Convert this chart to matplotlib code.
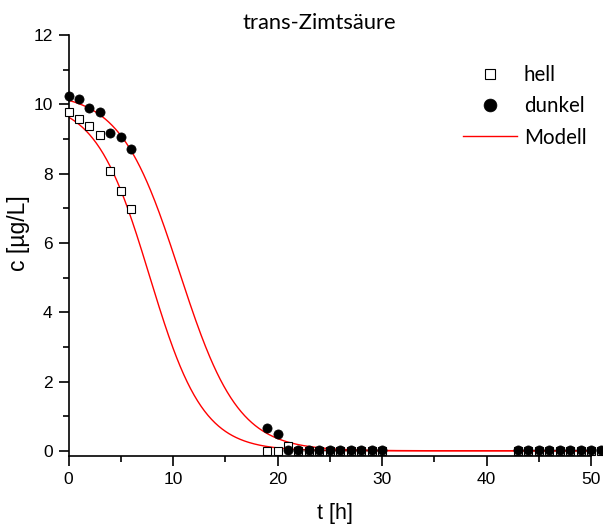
import numpy as np
import matplotlib
matplotlib.use("Agg")
import matplotlib.pyplot as plt
from matplotlib.ticker import MultipleLocator

# Measured concentrations c [µg/L] over time t [h]
t_hell = [0, 1, 2, 3, 4, 5, 6, 19, 20, 21, 22, 23, 24, 25, 26, 27, 28, 29, 30,
          43, 44, 45, 46, 47, 48, 49, 50, 51]
c_hell = [9.77, 9.57, 9.37, 9.10, 8.08, 7.49, 6.97, 0.0, 0.0, 0.15, 0.0, 0.0, 0.0,
          0.0, 0.0, 0.0, 0.0, 0.0, 0.0, 0.0, 0.0, 0.0, 0.0, 0.0, 0.0, 0.0, 0.0, 0.0]

t_dunkel = [0, 1, 2, 3, 4, 5, 6, 19, 20, 21, 22, 23, 24, 25, 26, 27, 28, 29, 30,
            43, 44, 45, 46, 47, 48, 49, 50, 51]
c_dunkel = [10.25, 10.14, 9.90, 9.77, 9.16, 9.07, 8.71, 0.67, 0.49, 0.02, 0.02, 0.02,
            0.02, 0.02, 0.02, 0.02, 0.02, 0.02, 0.02, 0.02, 0.02, 0.02, 0.02, 0.02,
            0.02, 0.02, 0.02, 0.02]

# Logistic model c(t) = A / (1 + exp(k (t - t50)))
model_hell = dict(A=10.1, k=0.39, t50=7.75)
model_dunkel = dict(A=10.35, k=0.355, t50=10.6)


def logistic(t, A, k, t50):
    return A / (1.0 + np.exp(k * (t - t50)))


plt.rcParams["font.family"] = ["Liberation Sans", "DejaVu Sans"]

W, H = 603, 525
fig = plt.figure(figsize=(W / 100, H / 100), dpi=100)
x0, x1, y_top, y_bot = 68.5, 591, 35, 456
ax = fig.add_axes([x0 / W, 1 - y_bot / H, (x1 - x0) / W, (y_bot - y_top) / H])

tt = np.linspace(0, 50, 600)
line_h, = ax.plot(tt, logistic(tt, **model_hell), color="#ff0000", lw=1.0, zorder=2)
ax.plot(tt, logistic(tt, **model_dunkel), color="#ff0000", lw=1.0, zorder=2)

sq, = ax.plot(t_hell, c_hell, ls="none", marker="s", ms=5.2, mfc="white",
              mec="black", mew=0.8, clip_on=False, zorder=3)
ci, = ax.plot(t_dunkel, c_dunkel, ls="none", marker="o", ms=6.6, mfc="black",
              mec="black", mew=0.5, clip_on=False, zorder=4)

ax.set_xlim(0, 50)
ax.set_ylim(-0.15, 12)
ax.xaxis.set_major_locator(MultipleLocator(10))
ax.xaxis.set_minor_locator(MultipleLocator(5))
ax.yaxis.set_major_locator(MultipleLocator(2))
ax.yaxis.set_minor_locator(MultipleLocator(1))
ax.spines["top"].set_visible(False)
ax.spines["right"].set_visible(False)
for s in ("left", "bottom"):
    ax.spines[s].set_linewidth(1.2)
ax.tick_params(which="major", direction="out", length=7.5, width=1.2,
               labelsize=12.5, pad=4)
ax.tick_params(which="minor", direction="out", length=4, width=1.2)

ax.set_xlabel("t [h]", fontsize=15.5)
ax.set_ylabel("c [µg/L]", fontsize=16.5)
ax.xaxis.label.set_va("center")
ax.yaxis.label.set_va("center")
ax.yaxis.label.set_ha("center")
ax.xaxis.set_label_coords((335 - x0) / (x1 - x0), (y_bot - 513) / (y_bot - y_top))
ax.yaxis.set_label_coords((19 - x0) / (x1 - x0), (y_bot - 233) / (y_bot - y_top))

fig.text(319 / W, 1 - 23 / H, "trans-Zimtsäure", ha="center", va="center",
         fontsize=15.8, family=["Lato", "DejaVu Sans"])

ax.legend([sq, ci, line_h], ["hell", "dunkel", "Modell"], frameon=False,
          loc="upper left", bbox_to_anchor=(463 / W, 1 - 65 / H),
          bbox_transform=fig.transFigure, borderaxespad=0, borderpad=0,
          prop={"family": ["Lato", "DejaVu Sans"], "size": 14.8},
          handlelength=2.65, handletextpad=0.3, labelspacing=0.55, markerscale=1.4)

fig.savefig("out.png", dpi=100)
